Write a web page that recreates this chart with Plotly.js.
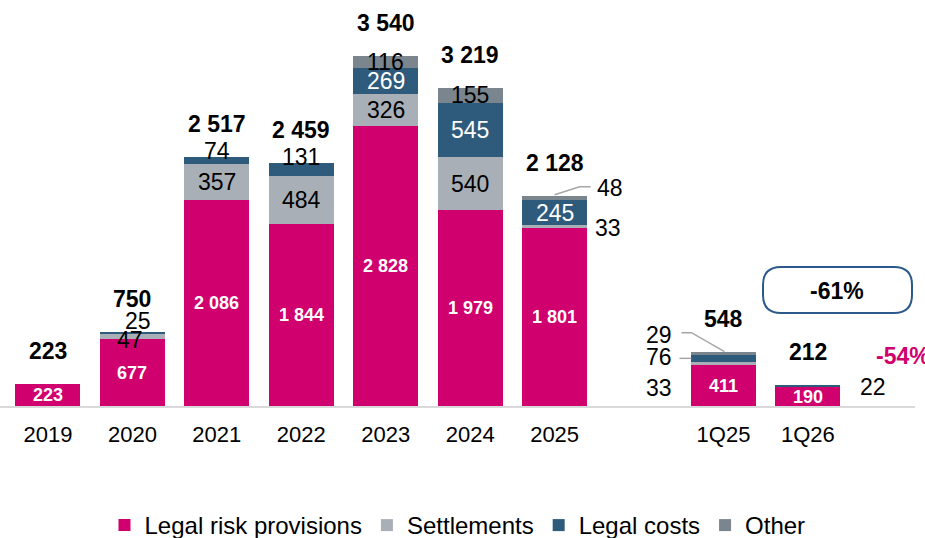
<!DOCTYPE html>
<html>
<head>
<meta charset="utf-8">
<script src="https://cdn.plot.ly/plotly-3.0.1.min.js"></script>
<style>html,body{margin:0;padding:0;background:#fff;}#chart{width:925px;height:538px;}</style>
</head>
<body>
<div id="chart"></div>
<script>
// ---- data ----
const categories = ['2019','2020','2021','2022','2023','2024','2025','1Q25','1Q26'];
const axisCategories = ['2019','2020','2021','2022','2023','2024','2025',' ','1Q25','1Q26'];
const legalRiskProvisions = [223, 677, 2086, 1844, 2828, 1979, 1801, 411, 190];
const settlements        = [0,   47,  357,  484,  326,  540,  33,   33,  0];
const legalCosts         = [0,   25,  74,   131,  269,  545,  245,  76,  22];
const other              = [0,   0,   0,    0,    116,  155,  48,   29,  0];
const totals             = [223, 750, 2517, 2459, 3540, 3219, 2128, 548, 212];
const seriesNames = ['Legal risk provisions','Settlements','Legal costs','Other'];
const changeBoxText = '-61%';
const sideChangeText = '-54%';

// ---- styling ----
const FONT = '"Liberation Sans", Arial, sans-serif';
const colors = ['#D0006F', '#A9AFB6', '#2E5B7C', '#7A858E'];
const labelColors = ['#FFFFFF', '#000000', '#FFFFFF', '#000000'];
const W = 915, H = 406;

const seriesValues = [legalRiskProvisions, settlements, legalCosts, other];

const traces = seriesNames.map((name, s) => ({
  type: 'bar',
  name: name,
  x: categories,
  y: seriesValues[s],
  marker: {color: colors[s], line: {width: 0}},
  hoverinfo: 'skip'
}));

// label placement overrides (pixel shifts relative to segment centre)
const overrides = {
  '2020|1': {dx: -2, dy: -3},
  '2020|2': {dx: 6, dy: 12, color: '#000000'},
  '2021|2': {dx: 0, dy: 10, color: '#000000'},
  '2022|2': {dx: 0, dy: 12, color: '#000000'},
  '2025|3': {dx: 55, dy: 10},
  '2025|1': {dx: 53, dy: -2},
  '1Q25|3': {dx: -64, dy: 18},
  '1Q25|2': {dx: -64, dy: 1, color: '#000000'},
  '1Q25|1': {dx: -64, dy: -24},
  '1Q26|2': {dx: 65, dy: -1, color: '#000000'}
};

function fmt(n) {
  return String(n).replace(/\B(?=(\d{3})+(?!\d))/g, ' ');
}
// category axis position (index in the axis order, incl. spacer)
function xpos(cat) { return axisCategories.indexOf(cat); }

const annotations = [];
categories.forEach((cat, i) => {
  let base = 0;
  seriesValues.forEach((vals, s) => {
    const v = vals[i];
    if (v > 0) {
      const o = overrides[cat + '|' + s] || {dx: 0, dy: 0};
      const isMain = s === 0;
      annotations.push({
        x: xpos(cat), y: base + v / 2, xref: 'x', yref: 'y',
        text: isMain ? '<b>' + fmt(v) + '</b>' : fmt(v),
        showarrow: false, xanchor: 'center', yanchor: 'middle',
        xshift: o.dx, yshift: o.dy,
        font: {family: FONT, size: isMain ? 18 : 23, color: o.color || labelColors[s]}
      });
    }
    base += v;
  });
  annotations.push({
    x: xpos(cat), y: base, xref: 'x', yref: 'y',
    text: '<b>' + fmt(totals[i]) + '</b>',
    showarrow: false, xanchor: 'center', yanchor: 'middle', yshift: 33,
    font: {family: FONT, size: 23, color: '#000000'}
  });
});

annotations.push({
  xref: 'paper', yref: 'paper', x: 837 / W, y: (H - 291) / H,
  text: '<b>' + changeBoxText + '</b>', showarrow: false,
  xanchor: 'center', yanchor: 'middle',
  font: {family: FONT, size: 23, color: '#000000'}
});
annotations.push({
  xref: 'paper', yref: 'paper', x: 874 / W, y: (H - 356) / H,
  text: '<b>' + sideChangeText + '</b>', showarrow: false,
  xanchor: 'left', yanchor: 'middle',
  font: {family: FONT, size: 23, color: '#D0006F'}
});

function stackTop(cat) {
  const i = categories.indexOf(cat);
  return seriesValues.reduce((a, vals) => a + vals[i], 0);
}
function segCenter(cat, s) {
  const i = categories.indexOf(cat);
  let b = 0;
  for (let k = 0; k < s; k++) b += seriesValues[k][i];
  return b + seriesValues[s][i] / 2;
}

const leaderStyle = {color: '#A6A6A6', width: 1.5};
const shapes = [
  // leader line 2025 "Other"
  {type: 'path', xref: 'x', yref: 'y', xsizemode: 'pixel', ysizemode: 'pixel',
   xanchor: xpos('2025'), yanchor: stackTop('2025'),
   path: 'M0,1 L25,9 L36,9', line: leaderStyle},
  // leader line 1Q25 "Other"
  {type: 'path', xref: 'x', yref: 'y', xsizemode: 'pixel', ysizemode: 'pixel',
   xanchor: xpos('1Q25'), yanchor: stackTop('1Q25'),
   path: 'M-42,19 L-32,19 L1,0', line: leaderStyle},
  // leader line 1Q25 "Legal costs"
  {type: 'path', xref: 'x', yref: 'y', xsizemode: 'pixel', ysizemode: 'pixel',
   xanchor: xpos('1Q25'), yanchor: segCenter('1Q25', 2),
   path: 'M-44,0 L-32,0', line: leaderStyle},
  // rounded box
  {type: 'path', xref: 'paper', yref: 'paper', xsizemode: 'pixel', ysizemode: 'pixel',
   xanchor: 0, yanchor: 0,
   path: 'M781,93 L894,93 Q912,93 912,111 L912,121 Q912,139 894,139 L781,139 Q763,139 763,121 L763,111 Q763,93 781,93 Z',
   line: {color: '#2B5A8A', width: 2}, fillcolor: 'rgba(0,0,0,0)'}
];

const layout = {
  width: 925, height: 538,
  margin: {l: 0, r: 10, t: 0, b: 132, autoexpand: false},
  paper_bgcolor: '#FFFFFF', plot_bgcolor: '#FFFFFF',
  barmode: 'stack', bargap: 0.23,
  font: {family: FONT, size: 22, color: '#000000'},
  xaxis: {
    type: 'category', categoryorder: 'array', categoryarray: axisCategories,
    range: [-0.568, 10.268], showgrid: false, zeroline: false,
    showline: true, linecolor: '#D9D9D9', linewidth: 2,
    ticks: '', ticklabelstandoff: 8,
    tickfont: {family: FONT, size: 22, color: '#000000'},
    fixedrange: true
  },
  yaxis: {range: [0, 4106], visible: false, showgrid: false, zeroline: false, fixedrange: true},
  showlegend: true,
  legend: {
    orientation: 'h', x: 0.5, xanchor: 'center', y: -(548 - 406) / 406, yanchor: 'bottom',
    font: {family: FONT, size: 24, color: '#000000'},
    traceorder: 'normal', itemwidth: 30, bgcolor: 'rgba(0,0,0,0)'
  },
  annotations: annotations,
  shapes: shapes
};

Plotly.newPlot('chart', traces, layout, {displayModeBar: false, staticPlot: true});
</script>
</body>
</html>
